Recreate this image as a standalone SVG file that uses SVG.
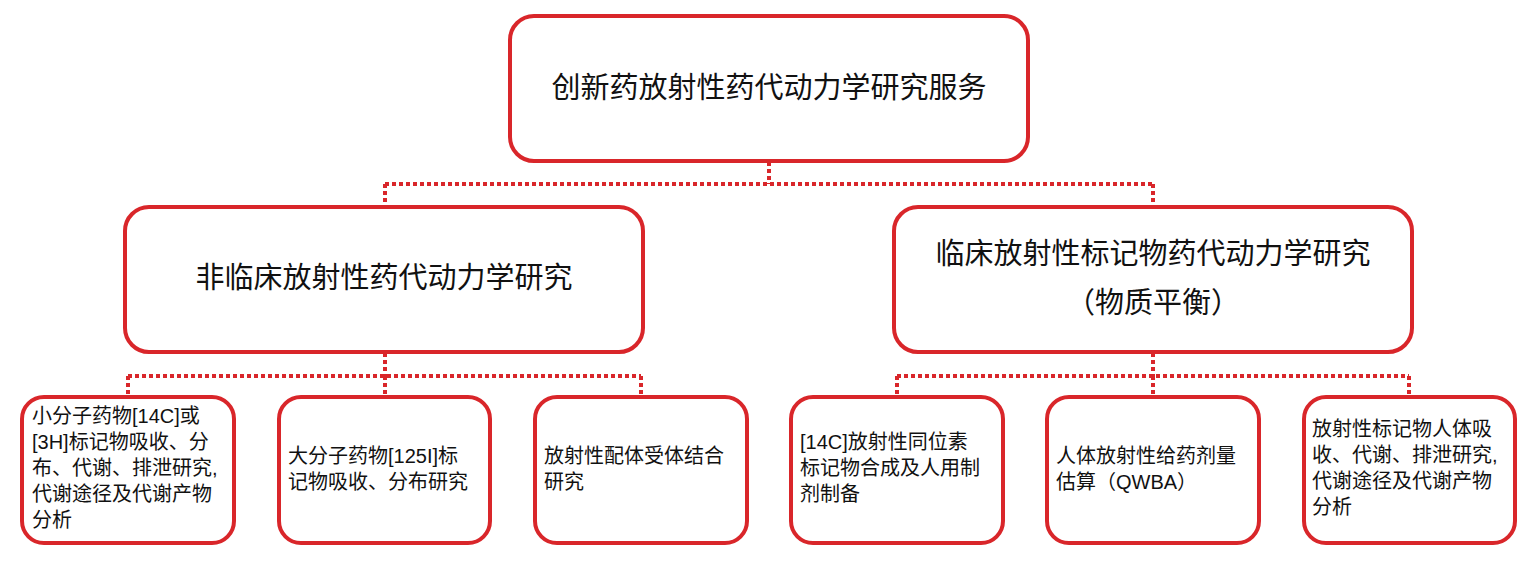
<svg xmlns="http://www.w3.org/2000/svg" width="1539" height="561" viewBox="0 0 1539 561">
<style>
.b{fill:#fff;stroke:#d9262a;stroke-width:4}
.c{fill:none;stroke:#d9262a;stroke-width:4;stroke-dasharray:4 3}
text{font-family:"Liberation Sans","Noto Sans CJK SC",sans-serif;fill:#111}
.t{font-size:29px;text-anchor:middle}
.s{font-size:20px}
</style>
<g id="connectors">
<path class="c" d="M769 162V184M385 184H1153M385 184V207M1153 184V207"/>
<path class="c" d="M385 353V376M128 376H641M128 376V397M385 376V397M641 376V397"/>
<path class="c" d="M1153 353V376M897 376H1409M897 376V397M1153 376V397M1409 376V397"/>
</g>
<g id="root"><rect class="b" x="510" y="16" width="518" height="145" rx="24"/><text class="t" x="769" y="98">创新药放射性药代动力学研究服务</text></g>
<g id="nonclinical"><rect class="b" x="125" y="207" width="518" height="145" rx="24"/><text class="t" x="384" y="288">非临床放射性药代动力学研究</text></g>
<g id="clinical"><rect class="b" x="894" y="207" width="518" height="145" rx="24"/><text class="t" x="1153" y="264">临床放射性标记物药代动力学研究</text><text class="t" x="1153" y="313">（物质平衡）</text></g>
<g id="leaf1"><rect class="b" x="22" y="397" width="212" height="146" rx="22"/><text class="s"><tspan x="32" y="423">小分子药物[14C]或</tspan><tspan x="32" y="449">[3H]标记物吸收、分</tspan><tspan x="32" y="475">布、代谢、排泄研究,</tspan><tspan x="32" y="501">代谢途径及代谢产物</tspan><tspan x="32" y="527">分析</tspan></text></g>
<g id="leaf2"><rect class="b" x="279" y="397" width="211" height="146" rx="22"/><text class="s"><tspan x="288" y="463">大分子药物[125I]标</tspan><tspan x="288" y="489">记物吸收、分布研究</tspan></text></g>
<g id="leaf3"><rect class="b" x="535" y="397" width="212" height="146" rx="22"/><text class="s"><tspan x="544" y="463">放射性配体受体结合</tspan><tspan x="544" y="489">研究</tspan></text></g>
<g id="leaf4"><rect class="b" x="791" y="397" width="212" height="146" rx="22"/><text class="s"><tspan x="800" y="449">[14C]放射性同位素</tspan><tspan x="800" y="475">标记物合成及人用制</tspan><tspan x="800" y="501">剂制备</tspan></text></g>
<g id="leaf5"><rect class="b" x="1047" y="397" width="212" height="146" rx="22"/><text class="s"><tspan x="1056" y="463">人体放射性给药剂量</tspan><tspan x="1056" y="489">估算（QWBA）</tspan></text></g>
<g id="leaf6"><rect class="b" x="1304" y="397" width="211" height="146" rx="22"/><text class="s"><tspan x="1312" y="436">放射性标记物人体吸</tspan><tspan x="1312" y="462">收、代谢、排泄研究,</tspan><tspan x="1312" y="488">代谢途径及代谢产物</tspan><tspan x="1312" y="514">分析</tspan></text></g>
</svg>
